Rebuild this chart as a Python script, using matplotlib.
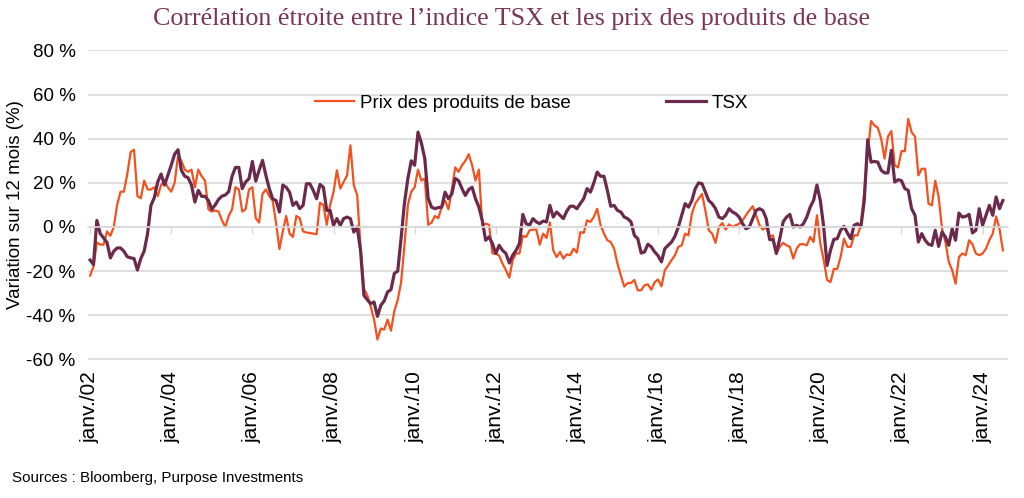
import matplotlib
matplotlib.use("Agg")
import matplotlib.pyplot as plt
import numpy as np

# variation sur 12 mois (%), mensuel, janv. 2002 -> juil. 2024
prix_base = [
    -22, -18, -7, -8, -8, -2, -4, 0, 10, 16, 16, 24,                      # 2002
    34, 35, 14, 13, 21, 17, 17, 18, 14, 19, 21, 18,                       # 2003
    16, 20, 32, 30, 26, 25, 26, 18, 26, 23, 21, 8,                        # 2004
    7, 7.5, 7, 3, 0, 5, 8, 18, 17, 7, 8, 17,                              # 2005
    18, 4, 2, 15, 17, 14, 12, 2, -10, -2, 5, -3,                          # 2006
    -4.5, 5, 4, -2, -2.5, -2.7, -3, -3.3, 11, 10, 1, 10,                  # 2007
    15.8, 25.7, 17.4, 20.4, 23.4, 37, 19, 14.5, -9, -28, -31, -36,        # 2008
    -42, -51, -46, -46.5, -42, -47, -38, -33, -25, -8, 10, 16,            # 2009
    18, 26, 21, 22, 1, 2, 5, 4, 9, 12, 8, 17,                             # 2010
    27, 25, 28, 30, 33, 28, 21, 26, 1, 1.5, 1, -12,                       # 2011
    -12, -13, -16.6, -19.6, -23, -15, -12, -12, -4, -4.5, -1.5, -1.2,     # 2012
    -1.2, -8, -3, -5, 2, -10.6, -13.6, -11.3, -14.3, -12.4, -12.8, -9.8,  # 2013
    -11.6, -2.3, -2.7, 3, 2.3, 4.5, 8.3, 0.8, -3, -6, -6.8, -9.8,         # 2014
    -16.6, -22, -27, -25.4, -25.4, -24, -28.7, -28.7, -26.4, -26, -28.4, -25,  # 2015
    -23.8, -26.9, -19.6, -17.4, -15, -12.8, -9, -8.3, -3, -3.8, 6, 10.6,  # 2016
    12.8, 15, 7.5, -1.5, -3, -7.2, 0, 1.8, -1.2, 1.2, 0, 0.8,             # 2017
    1.5, 3, 5.3, 7.5, 9.4, 5.3, 0.8, -1.2, 0, -4.5, -3.8, -12,            # 2018
    -9, -7.2, -8.3, -9, -14.3, -9.8, -7.8, -7.8, -8.3, -4.5, -6.8, 5.3,   # 2019
    -7.5, -15, -24, -25, -19, -19, -13.6, -5.3, -9, -9, -3.8, -3.8,       # 2020
    1, 16, 33, 48, 46, 45, 40, 31, 41, 43.5, 28, 27,                      # 2021
    34.4, 34.3, 49, 43, 41, 23.4, 26.4, 26.4, 10.6, 9.8, 21, 13.6,        # 2022
    -0.8, -6.8, -15.8, -19.6, -25.7, -13.6, -12, -12.8, -6, -7.8, -12, -12.8,  # 2023
    -12, -9.8, -6, -3, 4.8, -0.8, -10.6,                                  # 2024
]

tsx = [
    -15, -17, 3, -3, -5, -7, -14, -11, -9.5, -9.5, -11, -13.5,            # 2002
    -14, -14.3, -19.5, -14.3, -10.9, -3, 9.8, 13.3, 20.4, 24, 19, 23.4,   # 2003
    28, 33, 35, 25.7, 23, 22.3, 19, 11.3, 16.6, 13.9, 13.9, 12,           # 2004
    8, 10, 12.5, 14, 14.5, 16, 23, 27, 27, 17.4, 20.4, 21.9,              # 2005
    29.7, 20.8, 25.7, 30.2, 23.4, 17.4, 12.8, 12, 6.8, 19, 18, 15.8,      # 2006
    9.8, 11.3, 8.3, 9.8, 19.6, 19.6, 16.6, 12.8, 19.3, 18, 7.5, 7.5,      # 2007
    0.8, 3.8, 0.8, 3.8, 4.5, 3.8, -2.3, 0, -10.6, -31, -33, -34.7,        # 2008
    -34, -40.5, -35.5, -33.5, -29.4, -28.4, -21, -20, -5, 11, 22, 30,     # 2009
    28, 43, 38, 31, 13, 9, 8.3, 8.8, 9, 15.8, 12.8, 15,                   # 2010
    22, 21, 17.4, 14.3, 17, 18, 12.8, 9, 3, -6, -4.5, -7.5,               # 2011
    -12, -8.3, -10.6, -12, -16.3, -12.8, -10.6, -7.5, 5.7, 1.5, 0.8, 3.8, # 2012
    2.3, 1.5, 2.7, 2.3, 9.8, 4.5, 6.8, 5.3, 3.8, 7.2, 9.4, 9.4,           # 2013
    8.3, 10.6, 12.8, 17.4, 15.8, 20, 24.9, 23, 23, 16.6, 9.4, 9.8,        # 2014
    7.5, 6.8, 4.5, 3.8, 2.3, -3.8, -5.3, -11.8, -11.3, -7.8, -9, -11.3,   # 2015
    -13, -15.8, -9.8, -8.3, -6.8, -4.2, 0, 5.3, 10.6, 9, 12, 17.4,        # 2016
    20, 19.6, 15.8, 12, 10.6, 8.3, 4.5, 3.8, 5.3, 8.3, 6.8, 6,            # 2017
    4.5, 1.5, -0.8, 0, 3.8, 7.5, 8.3, 7.5, 3.8, -5.7, -5.7, -12,          # 2018
    -5.3, 2.3, 4.5, 5.7, 0, 0.8, 0, 1.5, 4.5, 9, 12, 19,                  # 2019
    12, 0, -17.4, -10.6, -5.6, -5.3, -1.5, 0.3, -2.7, -5.3, 0.8, 1.5,     # 2020
    0, 12, 39.5, 29.4, 29.7, 29.4, 25.7, 24.5, 24.5, 34.7, 20.4, 21.4,    # 2021
    21, 17.4, 16.6, 8.3, 5.3, -6.8, -3, -6, -7.8, -8.3, -1.5, -8.8,       # 2022
    -2.3, -4.5, -8.3, -0.8, -6, 6.3, 4.5, 4.8, 5.7, -2.7, -1.5, 8.3,      # 2023
    0.8, 5.3, 9.8, 5.3, 13.6, 8.3, 12,                                    # 2024
]

tick_months = list(range(0, 265, 24))
tick_labels = ["janv./02", "janv./04", "janv./06", "janv./08", "janv./10", "janv./12",
               "janv./14", "janv./16", "janv./18", "janv./20", "janv./22", "janv./24"]
y_ticks = [-60, -40, -20, 0, 20, 40, 60, 80]
y_labels = [f"{v} %" for v in y_ticks]

orange = "#F4511E"
bordeaux = "#6B2A4B"
grille = "#D9D9D9"

plt.rcParams["font.family"] = ["Liberation Sans", "DejaVu Sans"]

fig = plt.figure(figsize=(10.24, 4.98), dpi=100)
ax = fig.add_axes([0.086, 0.277, 0.898, 0.623])

ax.plot(np.arange(len(prix_base)), prix_base, color=orange, lw=1.6,
        label="Prix des produits de base")
ax.plot(np.arange(len(tsx)), tsx, color=bordeaux, lw=2.3, label="TSX")

ax.set_xlim(-0.6, 271.4)
ax.set_ylim(-60.3, 80.3)
ax.set_yticks(y_ticks, y_labels)
ax.tick_params(axis="y", length=0, pad=9, labelsize=13.5)
ax.grid(axis="y", color=grille, lw=1.2)
ax.set_axisbelow(True)

for s in ["top", "right", "left"]:
    ax.spines[s].set_visible(False)
ax.spines["bottom"].set_position(("data", 0))
ax.spines["bottom"].set_color(grille)
ax.spines["bottom"].set_linewidth(1.2)
ax.set_xticks(tick_months)
ax.tick_params(axis="x", direction="out", length=5, width=1, color=grille,
               labelbottom=False)

sec = ax.secondary_xaxis("bottom")
sec.set_xticks(tick_months, tick_labels, rotation=90)
sec.tick_params(length=0, pad=8, labelsize=15)
sec.spines["bottom"].set_visible(False)

ax.set_ylabel("Variation sur 12 mois (%)", fontsize=13.5)
ax.yaxis.set_label_coords(-0.0696, 0.5)

ax.legend(loc="center", bbox_to_anchor=(0.519, 1 - 103 / 498),
          bbox_transform=fig.transFigure, ncol=2, frameon=False, fontsize=13.5,
          handlelength=2.1, handletextpad=0.3, columnspacing=5.1)

fig.text(0.5, 1 - 19 / 498, "Corrélation étroite entre l’indice TSX et les prix des produits de base",
         ha="center", va="center", fontsize=18.7, color="#7B3558",
         family=["Liberation Serif", "DejaVu Serif"])
fig.text(12 / 1024, 1 - 478 / 498, "Sources : Bloomberg, Purpose Investments",
         ha="left", va="center", fontsize=10.9)

fig.savefig("out.png", dpi=100)
